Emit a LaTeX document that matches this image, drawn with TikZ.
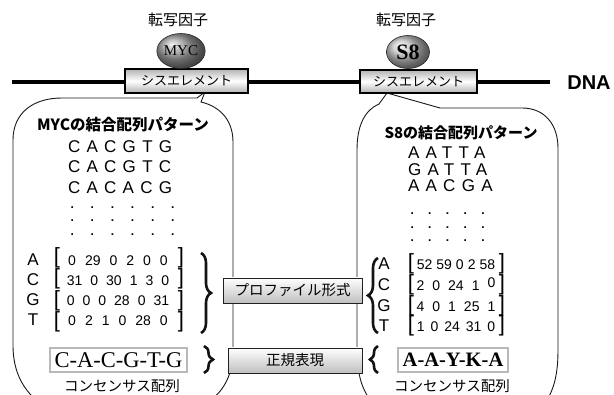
\documentclass[tikz,border=0pt]{standalone}
\usepackage{fontspec}
\setmainfont{Liberation Serif}
\setsansfont{Liberation Sans}
\newfontfamily\jpf{Noto Sans CJK JP}
\usetikzlibrary{shapes.geometric,decorations.pathreplacing}
\newcommand\fsz[1]{\fontsize{#1}{#1}\selectfont}
\newcommand\sps[1]{\spaceskip=#1pt plus 0pt minus 0pt\relax}
\tikzset{
  jp/.style={font=\jpf\fsz{#1}},
  jpb/.style={font=\jpf\bfseries\fsz{#1}},
  cisbox/.style={draw=black, line width=1.8pt, top color=gray!60, bottom color=gray!60, middle color=white, jp=13},
  tfball/.style={ellipse, draw=gray!30!black, line width=0.6pt, ball color=#1, minimum width=45pt, minimum height=35pt},
  callout/.style={draw=gray!20!black, line width=0.9pt, fill=white},
  midbox/.style={draw=gray!25!black, line width=0.8pt, top color=white, bottom color=gray!50, jp=14.5},
  consbox/.style={draw=gray!55, line width=2pt, fill=white, minimum height=24pt},
  brc/.style={draw=gray!15!black, line width=2.6pt, decorate, decoration={brace, amplitude=#1}},
  seq/.style={anchor=west, font=\sffamily\fsz{17}\addfontfeature{LetterSpace=37}},
  dotsL/.style={anchor=west, font=\sffamily\bfseries\fsz{12}\addfontfeature{LetterSpace=140}},
  dotsR/.style={anchor=west, font=\sffamily\bfseries\fsz{12}\addfontfeature{LetterSpace=120}},
  basecol/.style={align=center, font=\sffamily\fontsize{17}{#1}\selectfont},
  brkcol/.style={align=center, font=\sffamily\fontsize{22}{#1}\selectfont},
  numcol/.style={align=center, font=\sffamily\fontsize{14}{#1}\selectfont},
}
\begin{document}
\begin{tikzpicture}[x=1pt,y=-1pt, every node/.style={inner sep=0pt, outer sep=0pt}]
\useasboundingbox (0,0) rectangle (614,395);
\clip (0,0) rectangle (614,395);

% DNA strand
\coordinate (dnaL) at (12,82);
\coordinate (dnaR) at (550,82);
\draw[line width=4pt] (dnaL) -- (dnaR);
\node[font=\sffamily\bfseries\fsz{20}] (dna) at (589,83) {DNA};

% callouts
\draw[callout] (50,410) .. controls (30,398) and (13,380) .. (13,345) -- (13,140)
  .. controls (13,113) and (33,98) .. (62,98) -- (197,98) -- (205,92) -- (201,102)
  .. controls (222,107) and (233,122) .. (233,142) -- (233,350)
  .. controls (233,385) and (215,400) .. (195,410) -- cycle;
\draw[callout] (380,410) .. controls (365,398) and (357,380) .. (357,350) -- (357,150)
  .. controls (357,125) and (365,110) .. (379,104) -- (387,93) -- (440,108) -- (522,108)
  .. controls (545,108) and (558,125) .. (558,148) -- (558,350)
  .. controls (558,380) and (552,395) .. (540,410) -- cycle;

% cis elements
\node[cisbox, minimum width=123pt, minimum height=24pt] (cisL) at (186.5,81) {シスエレメント};
\node[cisbox, minimum width=117pt, minimum height=23pt] (cisR) at (418.5,81.5) {シスエレメント};

% transcription factors
\node[tfball=gray!75, font=\rmfamily\fsz{15}] (myc) at (181,51) {MYC};
\node[tfball=gray!45, font=\rmfamily\bfseries\fsz{22}, minimum width=43pt, minimum height=33pt] (s8) at (408,52) {S8};
\node[jp=15] (tf1) at (178,20) {転写因子};
\node[jp=15] (tf2) at (406,20) {転写因子};

% left callout content
\node[jpb=15.5] (titL) at (123,125) {MYCの結合配列パターン};
\node[seq] (sL1) at (68,147) {CACGTG};
\node[seq] (sL2) at (68,167) {CACGTC};
\node[seq] (sL3) at (68,188) {CACACG};
\node[dotsL] (dL1) at (70.5,208) {......};
\node[dotsL] (dL2) at (70.5,221) {......};
\node[dotsL] (dL3) at (70.5,235) {......};

\node[basecol=20] (lLet) at (33,290) {A\\C\\G\\T};
\node[brkcol=20] (lOpen) at (57,290) {{[}\\{[}\\{[}\\{[}};
\node[brkcol=20] (lClose) at (181,290) {{]}\\{]}\\{]}\\{]}};
\node[numcol=20] (lNum) at (118,291) {{\sps{9}0 29 0 2 0 0}\\{\sps{8}31 0 30 1 3 0\hspace{4pt}}\\{\sps{8}0 0 0 28 0 31}\\{\sps{9}0 2 1 0 28 0}};

\node[consbox, minimum width=137pt, font=\rmfamily\fsz{22.5}] (consL) at (118.5,360) {C-A-C-G-T-G};
\node[jp=14.5] (ctL) at (122,386) {コンセンサス配列};

% right callout content
\node[jpb=15] (titR) at (461,133) {S8の結合配列パターン};
\node[seq] (sR1) at (408,153) {AATTA};
\node[seq] (sR2) at (408,170) {GATTA};
\node[seq] (sR3) at (408,186) {AACGA};
\node[dotsR] (dR1) at (410.5,214) {.....};
\node[dotsR] (dR2) at (410.5,228) {.....};
\node[dotsR] (dR3) at (410.5,241) {.....};

\node[basecol=20.7] (rLet) at (384,295) {A\\C\\G\\T};
\node[brkcol=20.7] (rOpen) at (411,295) {{[}\\{[}\\{[}\\{[}};
\node[brkcol=20.7] (rClose) at (502,295) {{]}\\{]}\\{]}\\{]}};
\node[numcol=20.7] (rNum) at (456,296) {{\sps{4}52 59 0 2 58}\\{\sps{8}2 0 24 1 \raisebox{3pt}{0}}\\{\sps{8}4 0 1 25 1}\\{\sps{6}1 0 24 31 0}};

\node[consbox, minimum width=110pt, font=\rmfamily\bfseries\fsz{20.5}] (consR) at (453,360) {A-A-Y-K-A};
\node[jp=14.5] (ctR) at (452,386) {コンセンサス配列};

% braces
\draw[brc=10pt] (201,253) -- (201,333);
\draw[brc=9pt] (204,346) -- (204,373);
\draw[brc=10pt] (378,333) -- (378,258);
\draw[brc=8pt] (378,373) -- (378,346);

% middle labels
\node[midbox, minimum width=139pt, minimum height=25pt] (prof) at (292.5,290.5) {プロファイル形式};
\node[midbox, minimum width=134pt, minimum height=25pt] (regx) at (295,360.5) {正規表現};
\end{tikzpicture}
\end{document}
